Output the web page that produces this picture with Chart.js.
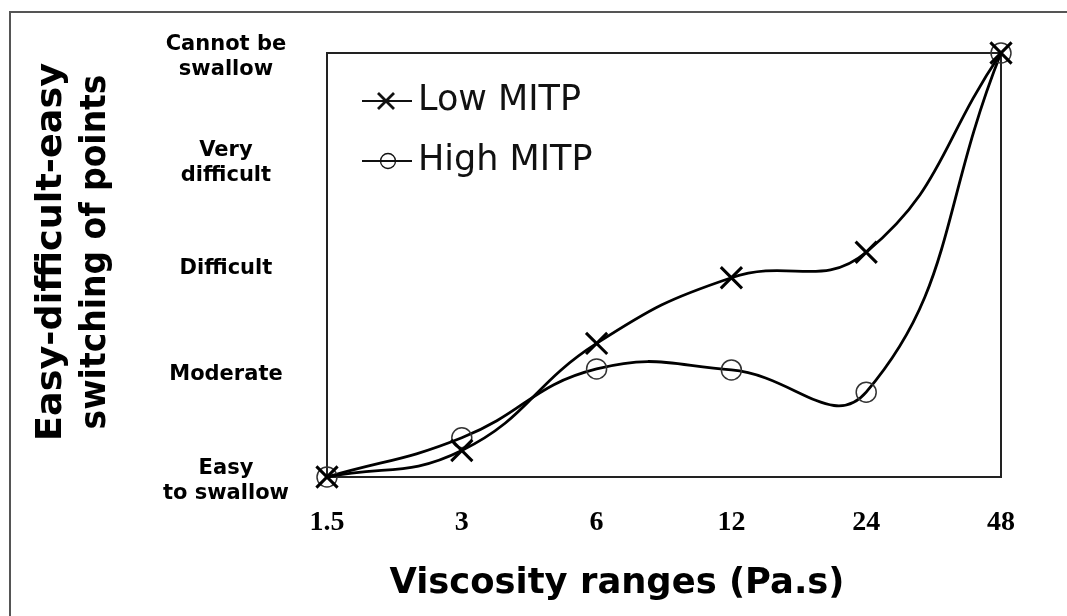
<!DOCTYPE html>
<html>
<head>
<meta charset="utf-8">
<script src="https://cdn.jsdelivr.net/npm/chart.js@4.4.1/dist/chart.umd.min.js"></script>
<style>
  html, body { margin: 0; padding: 0; background: #fff; }
  #wrap { position: relative; width: 1067px; height: 616px; }
</style>
</head>
<body>
<div id="wrap"><canvas id="chart" width="1067" height="616"></canvas></div>
<script>
const viscosity   = ['1.5', '3', '6', '12', '24', '48']
const levelLabels = [['Easy', 'to swallow'], 'Moderate', 'Difficult', ['Very', 'difficult'], ['Cannot be', 'swallow']]
const lowMITP     = [0, 0.25, 1.26, 1.88, 2.12, 4]
const highMITP    = [0, 0.37, 1.02, 1.01, 0.80, 4]
const seriesNames = ['Low MITP', 'High MITP']
const xTitle = 'Viscosity ranges (Pa.s)'
const yTitle = ['Easy-difficult-easy', 'switching of points']

// draw text stretched/squeezed to a given length
function fitText(ctx, text, x, y, len) {
  const w = ctx.measureText(text).width
  ctx.save()
  ctx.translate(x, y)
  ctx.scale(len / w, 1)
  ctx.fillText(text, 0, 0)
  ctx.restore()
}

const decorations = {
  id: 'decorations',
  beforeDraw(chart) {
    const ctx = chart.ctx
    ctx.save()
    ctx.fillStyle = '#fff'
    ctx.fillRect(0, 0, chart.width, chart.height)
    ctx.strokeStyle = '#555'
    ctx.lineWidth = 2
    ctx.beginPath()
    ctx.moveTo(1067, 12); ctx.lineTo(10, 12); ctx.lineTo(10, 616)
    ctx.stroke()
    ctx.restore()
  },
  beforeDatasetsDraw(chart) {
    const { ctx, chartArea: a } = chart
    ctx.save()
    ctx.strokeStyle = '#222'
    ctx.lineWidth = 2
    ctx.strokeRect(a.left, a.top, a.right - a.left, a.bottom - a.top)
    ctx.restore()
  },
  afterDraw(chart) {
    const ctx = chart.ctx
    ctx.save()
    ctx.fillStyle = '#000'
    ctx.textAlign = 'center'
    ctx.textBaseline = 'middle'

    // axis titles
    ctx.font = 'bold 35px "DejaVu Sans"'
    fitText(ctx, xTitle, 617, 584, 455)
    ctx.font = 'bold 35px "DejaVu Sans"'
    ;[[52, 252, 378], [96, 252, 355]].forEach(([x, y, len], i) => {
      ctx.save()
      ctx.translate(x, y)
      ctx.rotate(-Math.PI / 2)
      fitText(ctx, yTitle[i], 0, 0, len)
      ctx.restore()
    })

    // legend inside the plot
    ctx.strokeStyle = '#111'
    ctx.lineWidth = 2
    ;[101, 161].forEach((y, i) => {
      ctx.beginPath(); ctx.moveTo(362, y); ctx.lineTo(412, y); ctx.stroke()
      if (i === 0) {
        ctx.lineWidth = 2.8
        ctx.beginPath()
        ctx.moveTo(378, y - 8); ctx.lineTo(394, y + 8)
        ctx.moveTo(394, y - 8); ctx.lineTo(378, y + 8)
        ctx.stroke()
        ctx.lineWidth = 2
      } else {
        ctx.lineWidth = 1.3
        ctx.beginPath(); ctx.arc(388, y, 7.5, 0, Math.PI * 2); ctx.stroke()
        ctx.lineWidth = 2
      }
      ctx.textAlign = 'left'
      ctx.font = '35px "DejaVu Sans"'
      ctx.fillStyle = '#111'
      ctx.fillText(seriesNames[i], 418, y)
    })
    ctx.restore()
  }
}

new Chart(document.getElementById('chart'), {
  type: 'line',
  data: {
    labels: viscosity,
    datasets: [
      {
        label: seriesNames[0], data: lowMITP,
        borderColor: '#000', borderWidth: 2.8, tension: 0.45, clip: false,
        pointStyle: 'crossRot', pointRadius: 15, pointBorderWidth: 3,
        pointBorderColor: '#000', pointBackgroundColor: 'rgba(0,0,0,0)'
      },
      {
        label: seriesNames[1], data: highMITP,
        borderColor: '#000', borderWidth: 2.8, tension: 0.45, clip: false,
        pointStyle: 'circle', pointRadius: 10, pointBorderWidth: 1.5,
        pointBorderColor: '#333', pointBackgroundColor: 'rgba(0,0,0,0)'
      }
    ]
  },
  options: {
    responsive: false, animation: false, devicePixelRatio: 1,
    layout: { padding: { left: 0, top: 53, right: 66, bottom: 0 } },
    plugins: { legend: { display: false }, tooltip: { enabled: false } },
    scales: {
      x: {
        offset: false,
        grid: { display: false, drawTicks: false },
        border: { display: false },
        ticks: { color: '#000', padding: 29, maxRotation: 0, font: { family: '"Liberation Serif"', weight: 'bold', size: 28 } },
        afterFit: s => { s.height = 139; s.paddingLeft = 0; s.paddingRight = 0 }
      },
      y: {
        min: 0, max: 4,
        grid: { display: false, drawTicks: false },
        border: { display: false },
        ticks: {
          stepSize: 1, color: '#000', padding: 38, crossAlign: 'center', labelOffset: 4,
          font: { family: '"DejaVu Sans"', weight: 'bold', size: 21, lineHeight: 1.2 },
          callback: v => levelLabels[v]
        },
        afterFit: s => { s.width = 327; s.paddingTop = 0; s.paddingBottom = 0 }
      }
    }
  },
  plugins: [decorations]
})
</script>
</body>
</html>
